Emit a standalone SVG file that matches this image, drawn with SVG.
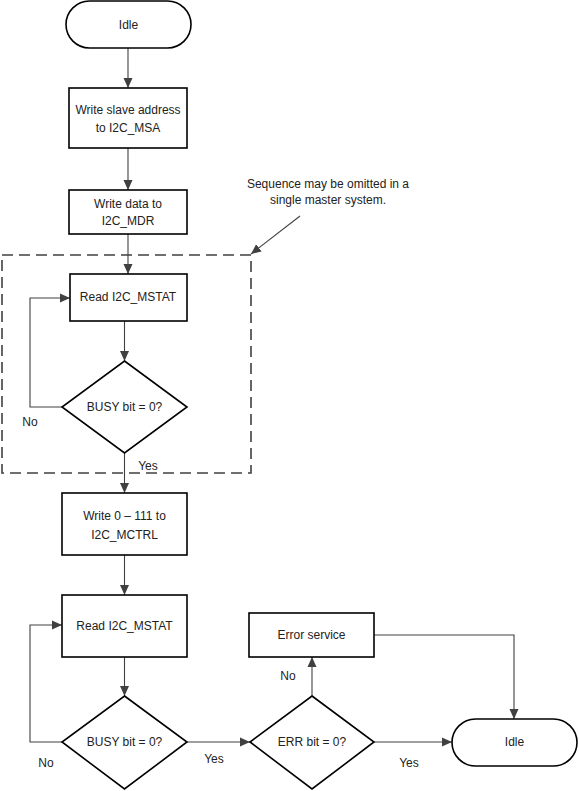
<svg xmlns="http://www.w3.org/2000/svg" width="579" height="791" viewBox="0 0 579 791">
<style>
.n{fill:#fff;stroke:#000;stroke-width:1.6}
.t{font-family:"Liberation Sans",Arial,sans-serif;font-size:12px;fill:#222;text-anchor:middle}
.c{fill:none;stroke:#404040;stroke-width:1.1}
.d{fill:none;stroke:#404040;stroke-width:1.6;stroke-dasharray:11,6}
</style>
<defs>
<marker id="ah" viewBox="0 0 10 10" refX="10" refY="5" markerWidth="10" markerHeight="10" markerUnits="userSpaceOnUse" orient="auto">
<path d="M0,0.5 L10,5 L0,9.5 Z" fill="#404040"/>
</marker>
</defs>
<rect class="d" x="2" y="255" width="249" height="218"/>
<g id="connectors">
<path class="c" d="M128,48 V88" marker-end="url(#ah)"/>
<path class="c" d="M128,148 V190" marker-end="url(#ah)"/>
<path class="c" d="M128,234 V274" marker-end="url(#ah)"/>
<path class="c" d="M124.5,321 V361" marker-end="url(#ah)"/>
<path class="c" d="M62,407 H30 V298 H70" marker-end="url(#ah)"/>
<path class="c" d="M124.5,453 V493" marker-end="url(#ah)"/>
<path class="c" d="M124.5,555 V595" marker-end="url(#ah)"/>
<path class="c" d="M124.5,657 V696" marker-end="url(#ah)"/>
<path class="c" d="M62,742 H30 V625 H62" marker-end="url(#ah)"/>
<path class="c" d="M187,742 H250" marker-end="url(#ah)"/>
<path class="c" d="M312,696 V657" marker-end="url(#ah)"/>
<path class="c" d="M374,635 H514 V719" marker-end="url(#ah)"/>
<path class="c" d="M374,742 H452" marker-end="url(#ah)"/>
<path class="c" d="M300,216 L251,254" marker-end="url(#ah)"/>
<text class="t" x="30" y="426">No</text>
<text class="t" x="148" y="470">Yes</text>
<text class="t" x="46" y="767">No</text>
<text class="t" x="214" y="763">Yes</text>
<text class="t" x="288" y="680">No</text>
<text class="t" x="409" y="767">Yes</text>
</g>
<g id="idle1">
<rect class="n" x="66" y="1" width="125" height="47" rx="23.5"/>
<text class="t" x="128.5" y="29">Idle</text>
</g>
<g id="msa">
<rect class="n" x="69" y="88" width="118" height="60"/>
<text class="t" x="128" y="114">Write slave address</text>
<text class="t" x="128" y="132">to I2C_MSA</text>
</g>
<g id="mdr">
<rect class="n" x="69" y="190" width="118" height="44"/>
<text class="t" x="128" y="208">Write data to</text>
<text class="t" x="128" y="225">I2C_MDR</text>
</g>
<g id="read1">
<rect class="n" x="70" y="274" width="117" height="47"/>
<text class="t" x="128" y="301">Read I2C_MSTAT</text>
</g>
<g id="busy1">
<polygon class="n" points="124.5,361 187,407 124.5,453 62,407"/>
<text class="t" x="124.5" y="411">BUSY bit = 0?</text>
</g>
<g id="mctrl">
<rect class="n" x="62" y="493" width="125" height="62"/>
<text class="t" x="124.5" y="520">Write 0 – 111 to</text>
<text class="t" x="124.5" y="539">I2C_MCTRL</text>
</g>
<g id="read2">
<rect class="n" x="62" y="595" width="125" height="62"/>
<text class="t" x="124.5" y="630">Read I2C_MSTAT</text>
</g>
<g id="busy2">
<polygon class="n" points="124.5,696 187,742 124.5,789 62,742"/>
<text class="t" x="124.5" y="746">BUSY bit = 0?</text>
</g>
<g id="err">
<polygon class="n" points="312,696 374,742 312,789 250,742"/>
<text class="t" x="312" y="746">ERR bit = 0?</text>
</g>
<g id="errsvc">
<rect class="n" x="249" y="613" width="125" height="44"/>
<text class="t" x="311.5" y="639">Error service</text>
</g>
<g id="idle2">
<rect class="n" x="452" y="719" width="125" height="47" rx="23.5"/>
<text class="t" x="514.5" y="746">Idle</text>
</g>
<g id="note">
<text class="t" x="328" y="188">Sequence may be omitted in a</text>
<text class="t" x="328" y="204">single master system.</text>
</g>
</svg>
